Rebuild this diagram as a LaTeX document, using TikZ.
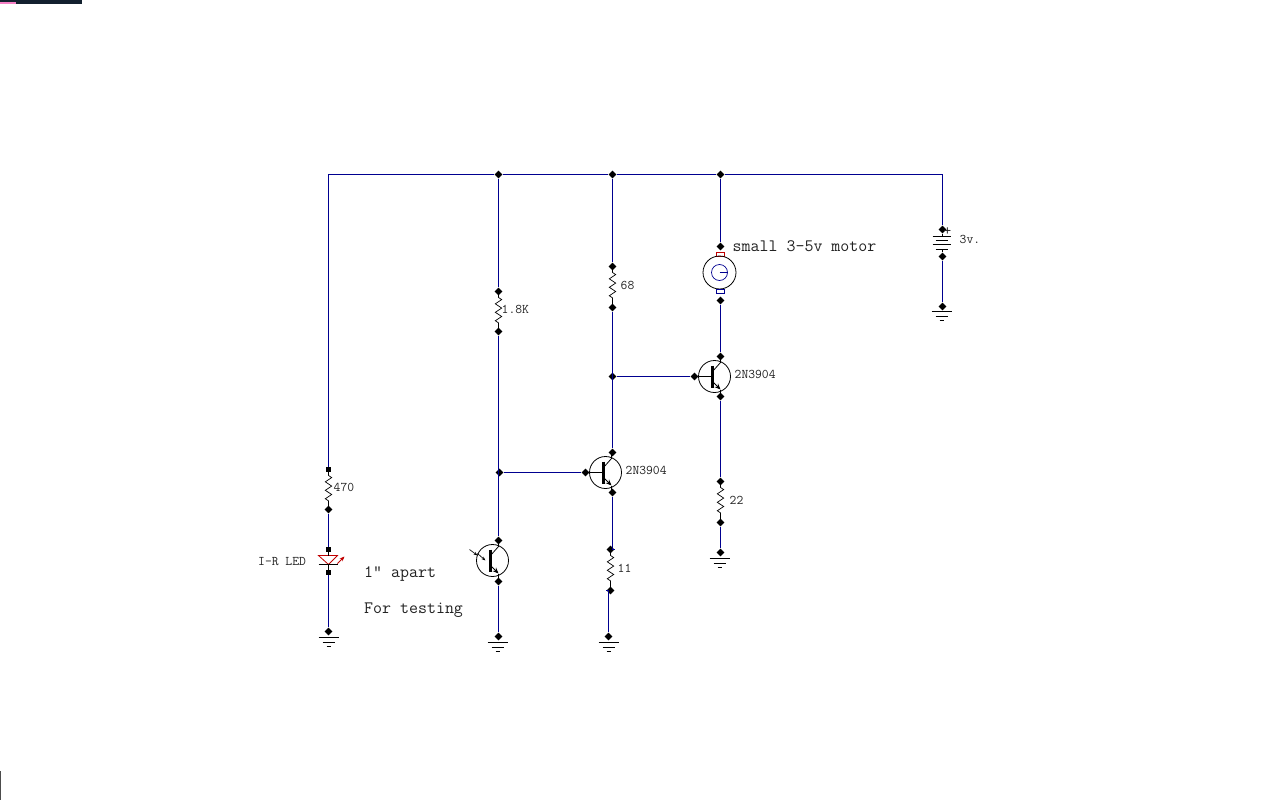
\documentclass[tikz,border=0pt]{standalone}
\usetikzlibrary{decorations.pathmorphing,arrows.meta,shapes.geometric}
\definecolor{wirecol}{HTML}{000090}
\definecolor{textcol}{HTML}{222222}
\definecolor{ledcol}{HTML}{C00000}
\definecolor{edgecol}{HTML}{12202E}
\tikzset{
    term/.style={diamond,fill=black,inner sep=0pt,minimum size=8pt},
    termsq/.style={rectangle,fill=black,inner sep=0pt,minimum size=5.5pt},
    wire/.style={draw=wirecol,line width=1.3bp},
    res/.style={draw=black,line width=0.7pt,decorate,
        decoration={zigzag,segment length=8.5pt,amplitude=3.2pt,pre length=6pt,post length=6pt}},
    biglabel/.style={anchor=west,inner sep=0pt,text=textcol,font=\ttfamily\fontsize{17.5}{17.5}\selectfont},
    smalllabel/.style={anchor=west,inner sep=0pt,text=textcol,font=\ttfamily\fontsize{13.3}{13.3}\selectfont},
    gnd/.pic={
        \draw[line width=0.8pt] (-10,0) -- (10,0);
        \draw[line width=0.8pt] (-6,5) -- (6,5);
        \draw[line width=0.8pt] (-2,9) -- (2,9);
    },
    npn/.pic={
        \draw[line width=0.8pt] (0,0) circle (16);
        \draw[line width=3pt] (-2,-11) -- (-2,11);
        \draw[line width=0.8pt] (-2,-5) -- (6,-14) -- (6,-20);
        \draw[line width=0.8pt,-{Stealth[length=6pt,width=5pt]}] (-2,5) -- (6,13);
        \draw[line width=0.8pt] (6,13) -- (6,20);
    },
}
\begin{document}
\begin{tikzpicture}[x=1bp,y=-1bp]
    \useasboundingbox (-0.5,-0.5) rectangle (1279.5,799.5);
    % marks along the picture edge
    \fill[fill=edgecol] (-0.5,-0.5) rectangle (81.5,3.5);
    \fill[fill=magenta!50] (-0.5,1.5) rectangle (15.5,3.5);
    \fill[fill=black!70] (-0.5,770) rectangle (0.5,799.5);

    % rail
    \coordinate (railL) at (328,174);
    \coordinate (railR) at (942,174);
    \node[term] (j1)    at (498,174) {};
    \node[term] (j2)    at (612,174) {};
    \node[term] (j3)    at (720,174) {};

    % led branch
    \node[termsq] (r470a) at (328,469) {};
    \node[term]   (r470b) at (328,509) {};
    \node[termsq] (leda)  at (328,549) {};
    \node[termsq] (ledb)  at (328,572) {};
    \node[term]   (g1)    at (328,631) {};
    \coordinate (ledtip) at (328,564);
    \draw[draw=ledcol,line width=0.8pt] (318,555) -- (337,555) -- (ledtip) -- cycle;
    \draw[line width=0.8pt] (318,564) -- (337,564);
    \draw[draw=ledcol,line width=0.8pt,-{Stealth[length=5pt,width=4pt]}] (337,563) -- (344,556);
    \draw[line width=0.7pt] (leda) -- (328,555);
    \draw[line width=0.7pt] (ledtip) -- (ledb);
    \draw[wire] (j1) -- (railL) -- (r470a);
    \draw[res]  (r470a.center) -- (r470b.center);
    \draw[wire] (r470b) -- (leda);
    \draw[wire] (ledb) -- (g1);
    \pic at (328,637) {gnd};
    \node[smalllabel] (t470) at (333,487) {470};
    \node[smalllabel] (tled) at (257.5,561) {I-R LED};
    \node[biglabel]   (tapart) at (363.5,574) {1" apart};
    \node[biglabel]   (ttest)  at (363.5,610) {For testing};

    % photo transistor
    \node[term] (r18a)  at (498,291) {};
    \node[term] (r18b)  at (498,331) {};
    \node[term] (j4)    at (499,472) {};
    \node[term] (q1c)   at (498,540) {};
    \node[term] (q1e)   at (498,581) {};
    \node[term] (g2)    at (498,636) {};
    \pic at (492,560) {npn};
    \draw[line width=0.7pt,-{Stealth[length=4pt,width=3pt]}] (469,549) -- (477,555);
    \draw[line width=0.7pt,-{Stealth[length=4pt,width=3pt]}] (477,553) -- (485,560);
    \draw[wire] (j1) -- (r18a);
    \draw[res]  (r18a.center) -- (r18b.center);
    \draw[wire] (r18b) -- (q1c);
    \draw[wire] (q1e) -- (g2);
    \pic at (497,642) {gnd};
    \node[smalllabel] (t18) at (501,309) {1.8K};

    % first amplifier
    \node[term] (r68a)  at (612,266) {};
    \node[term] (r68b)  at (612,307) {};
    \node[term] (j5)    at (612,376) {};
    \node[term] (q2b)   at (585,472) {};
    \node[term] (q2c)   at (612,452) {};
    \node[term] (q2e)   at (612,492) {};
    \node[term] (r11a)  at (610,549) {};
    \node[term] (r11b)  at (610,590) {};
    \node[term] (g3)    at (608,636) {};
    \pic at (605,472) {npn};
    \draw[line width=0.8pt] (q2b) -- (603,472);
    \draw[wire] (j2) -- (r68a);
    \draw[res]  (r68a.center) -- (r68b.center);
    \draw[wire] (r68b) -- (q2c);
    \draw[wire] (j4) -- (q2b);
    \draw[wire] (q2e) -- (q2e |- r11a) -- (r11a);
    \draw[res]  (r11a.center) -- (r11b.center);
    \draw[wire] (r11b) -- (g3 |- r11b) -- (g3);
    \pic at (608,642) {gnd};
    \node[smalllabel] (t68)  at (620,285) {68};
    \node[smalllabel] (t11)  at (617,568) {11};
    \node[smalllabel] (tq2)  at (625,470) {2N3904};

    % motor and second amplifier
    \node[term] (ma)    at (720,246) {};
    \node[term] (mb)    at (720,300) {};
    \node[term] (q3b)   at (694,376) {};
    \node[term] (q3c)   at (720,356) {};
    \node[term] (q3e)   at (720,396) {};
    \node[term] (r22a)  at (720,481) {};
    \node[term] (r22b)  at (720,522) {};
    \node[term] (g4)    at (720,552) {};
    \draw[draw=ledcol,line width=0.7pt] (716,252) rectangle (724,256);
    \draw[line width=0.8pt] (719,272) circle (16.5);
    \draw[draw=wirecol,line width=0.7pt] (719,272) circle (8);
    \draw[draw=wirecol,line width=0.7pt] (719,272) -- (727,272);
    \draw[draw=wirecol,line width=0.7pt] (716,289) rectangle (724,293);
    \pic at (714,376) {npn};
    \draw[line width=0.8pt] (q3b) -- (712,376);
    \draw[wire] (j3) -- (ma);
    \draw[wire] (mb) -- (q3c);
    \draw[wire] (j5) -- (q3b);
    \draw[wire] (q3e) -- (r22a);
    \draw[res]  (r22a.center) -- (r22b.center);
    \draw[wire] (r22b) -- (g4);
    \pic at (719,558) {gnd};
    \node[biglabel]   (tmotor) at (732,246) {small 3-5v motor};
    \node[smalllabel] (tq3)    at (734,374) {2N3904};
    \node[smalllabel] (t22)    at (729,500) {22};

    % battery
    \node[term] (ba)    at (942,229) {};
    \node[term] (bb)    at (942,256) {};
    \node[term] (g5)    at (942,306) {};
    \draw[line width=0.8pt] (932,236) -- (950,236);
    \draw[line width=0.8pt] (935,240) -- (947,240);
    \draw[line width=0.8pt] (932,244) -- (950,244);
    \draw[line width=0.8pt] (935,249) -- (947,249);
    \draw[line width=0.7pt] (ba) -- (942,236);
    \draw[line width=0.7pt] (942,249) -- (bb);
    \draw[wire] (j3) -- (railR) -- (ba);
    \draw[wire] (bb) -- (g5);
    \pic at (941,311) {gnd};
    \node[smalllabel,font=\ttfamily\fontsize{15}{15}\selectfont] (tplus) at (943,231) {+};
    \node[smalllabel] (tbat)  at (959,239) {3v.};

    % rest of the rail
    \draw[wire] (j1) -- (j2);
    \draw[wire] (j2) -- (j3);
\end{tikzpicture}
\end{document}
